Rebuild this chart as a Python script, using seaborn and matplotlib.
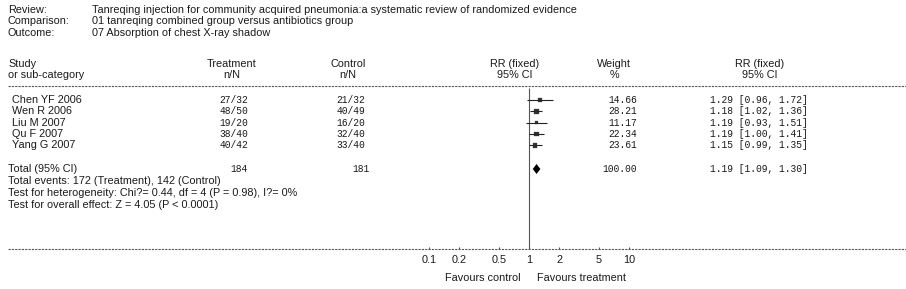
import matplotlib
matplotlib.use("Agg")
import matplotlib.pyplot as plt
import seaborn as sns
import pandas as pd
import numpy as np

# ---- data ----
review = "Tanreqing injection for community acquired pneumonia:a systematic review of randomized evidence"
comparison = "01 tanreqing combined group versus antibiotics group"
outcome = "07 Absorption of chest X-ray shadow"
studies = ["Chen YF 2006", "Wen R 2006", "Liu M 2007", "Qu F 2007", "Yang G 2007"]
treat_nN = ["27/32", "48/50", "19/20", "38/40", "40/42"]
ctrl_nN = ["21/32", "40/49", "16/20", "32/40", "33/40"]
weights = [14.66, 28.21, 11.17, 22.34, 23.61]
rr = [1.29, 1.18, 1.19, 1.19, 1.15]
rr_lo = [0.96, 1.02, 0.93, 1.00, 0.99]
rr_hi = [1.72, 1.36, 1.51, 1.41, 1.35]
total_treat = 184
total_ctrl = 181
total_weight = 100.00
total_rr, total_lo, total_hi = 1.19, 1.09, 1.30
total_events = "Total events: 172 (Treatment), 142 (Control)"
heterogeneity = "Test for heterogeneity: Chi?= 0.44, df = 4 (P = 0.98), I?= 0%"
overall = "Test for overall effect: Z = 4.05 (P < 0.0001)"
ticks = [0.1, 0.2, 0.5, 1, 2, 5, 10]
tick_labels = ["0.1", "0.2", "0.5", "1", "2", "5", "10"]

# ---- layout (pixels) ----
W, H = 906, 289
sns.set_theme(style="white")
plt.rcParams['font.family'] = ['Liberation Sans', 'DejaVu Sans']
fig = plt.figure(figsize=(W / 100, H / 100), dpi=100)
ax = fig.add_axes([0, 0, 1, 1])
x_one, px_dec = 529, 100.0
ax.set_xscale("log")
ax.set_xlim(10 ** ((0 - x_one) / px_dec), 10 ** ((W - x_one) / px_dec))
ax.set_ylim(H, 0)
ax.axis("off")

SANS = 7.8
MONO = dict(family="Liberation Mono", fontsize=6.9)

def tx(x, y, s, ha="left", **kw):
    kw.setdefault("fontsize", SANS)
    fig.text(x / W, 1 - y / H, s, ha=ha, va="center", color="#1a1a1a", **kw)

# title block
for i, (lab, val) in enumerate([("Review:", review), ("Comparison:", comparison), ("Outcome:", outcome)]):
    y = 10 + i * 11.3
    tx(8, y, lab)
    tx(92, y, val)

# headers
hy1, hy2 = 64, 75
tx(8, hy1, "Study"); tx(8, hy2, "or sub-category")
tx(232, hy1, "Treatment", ha="center"); tx(232, hy2, "n/N", ha="center")
tx(348, hy1, "Control", ha="center"); tx(348, hy2, "n/N", ha="center")
tx(515, hy1, "RR (fixed)", ha="center"); tx(515, hy2, "95% CI", ha="center")
tx(614, hy1, "Weight", ha="center"); tx(614, hy2, "%", ha="center")
tx(760, hy1, "RR (fixed)", ha="center"); tx(760, hy2, "95% CI", ha="center")

line_y = 86
axis_y = 249
xl = ax.get_xlim()
x_left = 10 ** ((8 - x_one) / px_dec)
ax.hlines([line_y, axis_y], x_left, xl[1], colors="#555555", linewidth=0.8, linestyles=(0, (2, 1)))
ax.vlines(1, line_y + 2, axis_y, colors="#555555", linewidth=0.8)

# study rows
row_y = [100, 111.3, 122.6, 133.9, 145.2]
df = pd.DataFrame({"study": studies, "rr": rr, "lo": rr_lo, "hi": rr_hi,
                   "w": weights, "y": row_y})
ax.hlines(df["y"], df["lo"], df["hi"], colors="#222222", linewidth=0.8)
sns.scatterplot(data=df, x="rr", y="y", size="w", sizes=(6, 14), marker="s",
                color="#333333", edgecolor="#333333", legend=False, ax=ax)
for i in range(len(studies)):
    y = row_y[i]
    tx(12, y, studies[i])
    tx(248, y, treat_nN[i], ha="right", **MONO)
    tx(365, y, ctrl_nN[i], ha="right", **MONO)
    tx(637, y, f"{weights[i]:.2f}", ha="right", **MONO)
    tx(710, y, f"{rr[i]:.2f} [{rr_lo[i]:.2f}, {rr_hi[i]:.2f}]", **MONO)

# total
ty = 169
tx(8, ty, "Total (95% CI)")
tx(248, ty, str(total_treat), ha="right", **MONO)
tx(370, ty, str(total_ctrl), ha="right", **MONO)
tx(637, ty, f"{total_weight:.2f}", ha="right", **MONO)
tx(710, ty, f"{total_rr:.2f} [{total_lo:.2f}, {total_hi:.2f}]", **MONO)
ax.fill([total_lo, total_rr, total_hi, total_rr], [ty, ty - 5, ty, ty + 5],
        color="black", linewidth=0)

tx(8, 181, total_events)
tx(8, 193, heterogeneity)
tx(8, 205, overall)

# axis ticks
ax.vlines(ticks, axis_y - 2, axis_y, colors="#555555", linewidth=0.8)
for t, lab in zip(ticks, tick_labels):
    xp = x_one + px_dec * np.log10(t)
    tx(xp, 260, lab, ha="center")
tx(521, 278, "Favours control", ha="right")
tx(537, 278, "Favours treatment", ha="left")

fig.savefig("out.png", dpi=100)
